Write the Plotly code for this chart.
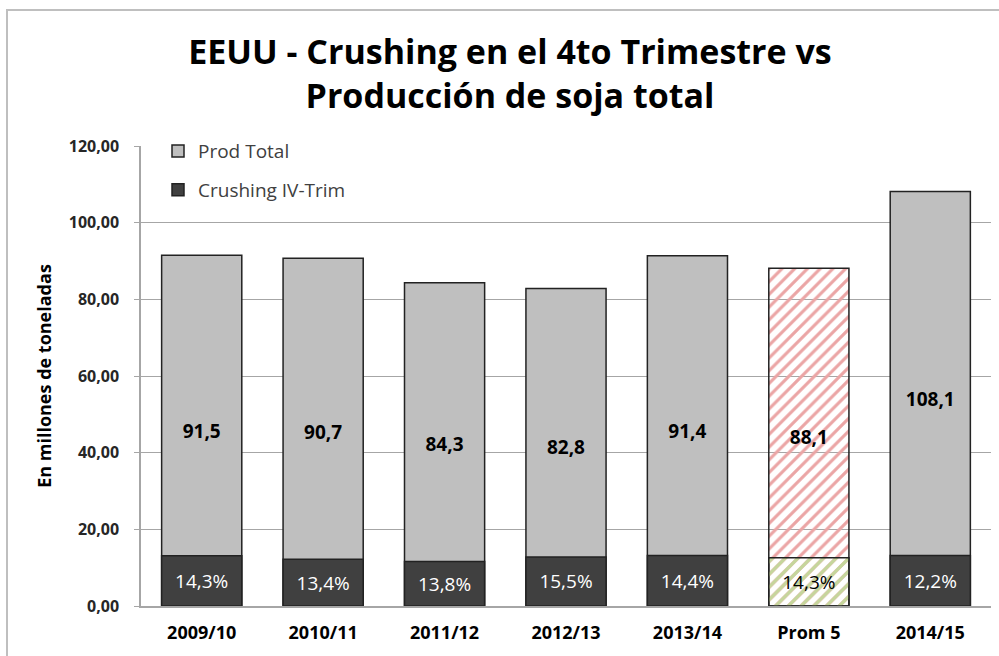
import plotly.graph_objects as go

categories = ["2009/10", "2010/11", "2011/12", "2012/13", "2013/14", "Prom 5", "2014/15"]
prod_total = [91.5, 90.7, 84.3, 82.8, 91.4, 88.1, 108.1]
crushing_iv = [13.1, 12.2, 11.6, 12.8, 13.2, 12.6, 13.2]
crushing_pct_labels = ["14,3%", "13,4%", "13,8%", "15,5%", "14,4%", "14,3%", "12,2%"]
prod_labels = ["91,5", "90,7", "84,3", "82,8", "91,4", "88,1", "108,1"]
y_ticks = [0, 20, 40, 60, 80, 100, 120]

is_avg = [c == "Prom 5" for c in categories]
prod_colors = ["#EBA5A5" if a else "#BFBFBF" for a in is_avg]
crush_colors = ["#C4D79B" if a else "#404040" for a in is_avg]
shapes_pat = ["/" if a else "" for a in is_avg]
crush_text_colors = ["black" if a else "white" for a in is_avg]

fig = go.Figure()
fig.add_trace(go.Bar(
    x=categories, y=prod_total, name="Prod Total",
    legendgroup="a",
    text=prod_labels, textposition="inside", insidetextanchor="middle",
    textfont=dict(family="Open Sans", size=19, color="black", weight="bold"),
    marker=dict(color=prod_colors, line=dict(color="#222222", width=1.5),
                pattern=dict(shape=shapes_pat, fillmode="replace", bgcolor="white",
                             size=9, solidity=0.35)),
    width=0.66, hoverinfo="skip",
))
fig.add_trace(go.Bar(
    x=categories, y=crushing_iv, name="Crushing IV-Trim",
    legendgroup="b",
    text=crushing_pct_labels, textposition="inside",
    insidetextanchor="middle",
    textfont=dict(family="Open Sans", size=19, color=crush_text_colors),
    marker=dict(color=crush_colors, line=dict(color="#222222", width=1.5),
                pattern=dict(shape=shapes_pat, fillmode="replace", bgcolor="white",
                             size=9, solidity=0.35)),
    width=0.66, hoverinfo="skip",
))

fig.update_layout(
    width=999, height=656,
    barmode="overlay",
    separators=",.",
    paper_bgcolor="white", plot_bgcolor="white",
    margin=dict(l=141, r=8, t=146, b=50),
    title=dict(text="EEUU - Crushing en el 4to Trimestre vs<br>Producción de soja total",
               x=510 / 999, xref="container", xanchor="center",
               y=1 - 64 / 656, yref="container", yanchor="bottom",
               font=dict(family="Open Sans", size=34, color="black", weight="bold")),
    legend=dict(x=0.02, y=1.03, xanchor="left", yanchor="top",
                traceorder="grouped", tracegroupgap=11,
                bgcolor="rgba(0,0,0,0)", itemwidth=30,
                font=dict(family="Open Sans", size=19, color="#404040")),
    xaxis=dict(showline=True, linecolor="#A6A6A6", linewidth=1.5,
               tickfont=dict(family="Open Sans", size=18, color="black", weight="bold"),
               ticks="", ticklabelstandoff=10, fixedrange=True),
    yaxis=dict(range=[0, 120], tickvals=y_ticks, tickformat=".2f",
               showgrid=True, gridcolor="#A6A6A6", gridwidth=1,
               showline=True, linecolor="#A6A6A6", linewidth=1.5,
               ticks="outside", ticklen=5, tickcolor="#A6A6A6",
               ticklabelstandoff=12,
               tickfont=dict(family="Open Sans", size=16, color="#262626", weight="bold"),
               title=dict(text="En millones de toneladas", standoff=12,
                          font=dict(family="Open Sans", size=18, color="black", weight="bold")),
               zeroline=False),
    shapes=[dict(type="rect", xref="paper", yref="paper",
                 x0=(7 - 141) / 850, x1=1.2, y0=-0.3, y1=(606 - 10) / 460,
                 line=dict(color="#BFBFBF", width=2), fillcolor="rgba(0,0,0,0)", layer="below")],
)

fig.write_html("out.html", config={"displayModeBar": False})
with open("out.html", encoding="utf-8") as f:
    html = f.read()
html = html.replace("<head>", "<head><style>html,body{margin:0;padding:0;}</style>", 1)
with open("out.html", "w", encoding="utf-8") as f:
    f.write(html)
